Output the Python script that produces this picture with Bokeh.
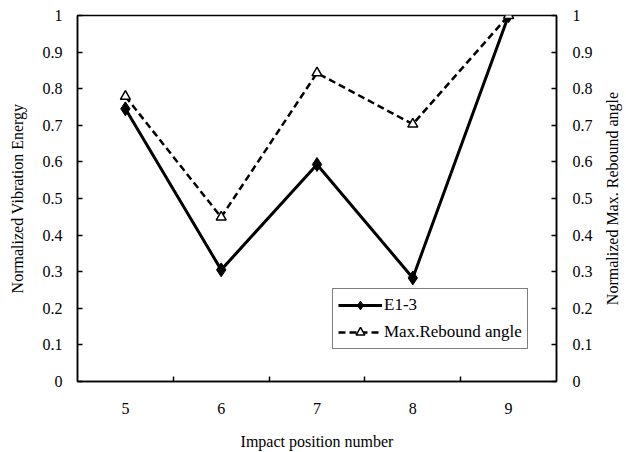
import math
from bokeh.plotting import figure
from bokeh.models import Range1d, LinearAxis, FixedTicker, Legend, LegendItem, ColumnDataSource, Label
from bokeh.embed import file_html
from bokeh.resources import INLINE

positions = [5, 6, 7, 8, 9]
vib_energy = [0.745, 0.305, 0.593, 0.283, 1.0]
rebound = [0.779, 0.449, 0.843, 0.703, 1.0]
y_ticks = [0, 0.1, 0.2, 0.3, 0.4, 0.5, 0.6, 0.7, 0.8, 0.9, 1.0]
y_labels = {0: "0", 0.1: "0.1", 0.2: "0.2", 0.3: "0.3", 0.4: "0.4", 0.5: "0.5",
            0.6: "0.6", 0.7: "0.7", 0.8: "0.8", 0.9: "0.9", 1.0: "1"}
boundaries = [5.5, 6.5, 7.5, 8.5]
right_title = "Normalized Max. Rebound angle"

FONT = "Liberation Serif"

p = figure(width=626, height=452, output_backend="svg", toolbar_location=None,
           x_range=Range1d(4.5, 9.5), y_range=Range1d(0, 1),
           min_border_left=77, min_border_right=70, min_border_top=15, min_border_bottom=69)
p.extra_y_ranges = {"right": Range1d(0, 1)}
p.xgrid.visible = False
p.ygrid.visible = False
p.outline_line_color = "black"
p.outline_line_width = 1.5
p.background_fill_color = "white"
p.border_fill_color = "white"

# x axis
xa = p.xaxis[0]
xa.ticker = FixedTicker(ticks=positions, minor_ticks=boundaries)
xa.major_tick_in = 0
xa.major_tick_out = 0
xa.minor_tick_in = 5
xa.minor_tick_out = 0
xa.minor_tick_line_color = "black"
xa.minor_tick_line_width = 1.5
xa.axis_line_width = 1.5
xa.major_label_standoff = 21
xa.axis_label = "Impact position number"
xa.axis_label_standoff = 16

# left y axis
ya = p.yaxis[0]
ya.ticker = FixedTicker(ticks=y_ticks, minor_ticks=[])
ya.major_label_overrides = y_labels
ya.major_tick_in = 5
ya.major_tick_out = 0
ya.major_tick_line_width = 1.5
ya.axis_line_width = 1.5
ya.major_label_standoff = 15
ya.axis_label = "Normalized Vibration Energy"
ya.axis_label_standoff = 14

# right y axis
ra = LinearAxis(y_range_name="right", ticker=FixedTicker(ticks=y_ticks, minor_ticks=[]))
ra.major_label_overrides = y_labels
ra.major_tick_in = 5
ra.major_tick_out = 0
ra.major_tick_line_width = 1.5
ra.axis_line_width = 1.5
ra.major_label_standoff = 16
p.add_layout(ra, "right")

for ax in [xa, ya, ra]:
    ax.major_label_text_font = FONT
    ax.major_label_text_font_size = "16px"
    ax.major_label_text_color = "black"
    ax.axis_label_text_font = FONT
    ax.axis_label_text_font_size = "16px"
    ax.axis_label_text_font_style = "normal"
    ax.axis_label_text_color = "black"
    ax.axis_line_color = "black"
    ax.major_tick_line_color = "black"

# right-hand axis title, reading bottom to top, in its own side panel
rt = Label(x=17, y=183, x_units="screen", y_units="screen", text=right_title,
           angle=math.pi / 2, text_align="center", text_baseline="middle",
           text_font=FONT, text_font_size="16px", text_color="black")
p.add_layout(rt, "right")

src = ColumnDataSource(dict(x=positions, e=vib_energy, r=rebound))

l1 = p.line("x", "e", source=src, line_color="black", line_width=3)
m1 = p.scatter("x", "e", source=src, marker="diamond", size=14, fill_color="black", line_color="black")
l2 = p.line("x", "r", source=src, line_color="black", line_width=2.5, line_dash="7 4", y_range_name="right")
m2 = p.scatter("x", "r", source=src, marker="triangle", size=10, fill_color="white", line_color="black",
               line_width=1.5, y_range_name="right")

legend = Legend(items=[LegendItem(label="E1-3", renderers=[l1, m1]),
                       LegendItem(label="Max.Rebound angle", renderers=[l2, m2])],
                location=(255, 32))
legend.label_text_font = FONT
legend.label_text_font_size = "17px"
legend.label_text_color = "black"
legend.border_line_color = "black"
legend.border_line_width = 1.2
legend.glyph_width = 44
legend.glyph_height = 22
legend.spacing = 5
legend.padding = 5
legend.margin = 0
legend.label_standoff = 2
legend.background_fill_alpha = 1
p.add_layout(legend, "center")

open("out.html", "w").write(file_html(p, INLINE))
